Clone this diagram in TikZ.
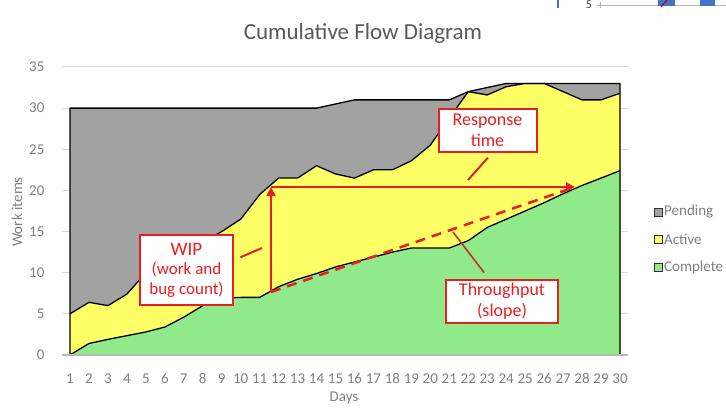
\documentclass[tikz,border=0pt]{standalone}
\usepackage{fontspec}
\setmainfont{Carlito}
\usetikzlibrary{arrows.meta}
\definecolor{pend}{RGB}{162,162,162}
\definecolor{act}{RGB}{255,255,102}
\definecolor{comp}{RGB}{144,234,138}
\definecolor{ann}{RGB}{232,30,35}
\definecolor{lead}{RGB}{195,50,40}
\definecolor{lbl}{RGB}{128,128,128}
\definecolor{gridc}{RGB}{217,217,217}
\definecolor{ttl}{RGB}{89,89,89}
\definecolor{fragblue}{RGB}{68,114,196}
\begin{document}
\begin{tikzpicture}[x=1pt,y=-1pt,
  annbox/.style={draw=ann, line width=2pt, fill=white, text=ann, align=center, inner sep=0pt, font=\fontsize{18}{21}\selectfont},
  annarrow/.style={draw=ann, line width=2.5pt, -{Triangle[length=9pt,width=9pt]}},
  anndash/.style={draw=ann, line width=2.5pt, dash pattern=on 10pt off 7pt},
  annlead/.style={draw=ann, line width=2pt},
  thrlead/.style={draw=lead, line width=1.6pt},
  ticklbl/.style={text=lbl, font=\fontsize{15}{17}\selectfont, inner sep=0pt},
  areaedge/.style={draw=black, line width=1.3pt, line join=round},
  legsq/.style={draw=black!80, line width=0.9pt, minimum size=8pt, inner sep=0pt},
]
\useasboundingbox (0,0) rectangle (726,408);
\fill[white] (0,0) rectangle (726,408);

% fragment of another chart at top right
\draw[fragblue, line width=1.2pt] (558,0) -- (558,8);
\node[text=black!75, font=\fontsize{12}{14}\selectfont, anchor=base, inner sep=0pt] (frag5) at (589,8) {5};
\draw[gray!60, line width=1pt] (597,5) -- (726,5);
\draw[gray!60, line width=1pt] (600,2) -- (600,8);
\fill[fragblue] (658,0) rectangle (675,6);
\fill[fragblue] (700,0) rectangle (715,6);
\draw[red!70!black, line width=1pt] (661,7) -- (667,0);

% title
\node[text=ttl, font=\fontsize{23}{27}\selectfont] (title) at (363,33) {Cumulative Flow Diagram};

% plot
\begin{scope}[shift={(70pt,-355pt)}, x=18.9655pt, y=8.23pt]
  \foreach \v in {5,10,...,35} \draw[gridc, line width=1pt] (-0.42,\v) -- (29.42,\v);
  \fill[pend] (0,0) -- (0,30) -- (13,30) -- (14,30.5) -- (15,31) -- (20,31) -- (21,32) -- (22,32.5) -- (23,33) -- (29,33) -- (29,0) -- cycle;
  \fill[act] (0,0) -- (0,5) -- (1,6.4) -- (2,6.0) -- (3,7.4) -- (4,10) -- (5,11.2) -- (6,12.5) -- (7,13.7) -- (8,15) -- (9,16.5) -- (10,19.5) -- (11,21.5) -- (12,21.5) -- (13,23) -- (14,22) -- (15,21.5) -- (16,22.5) -- (17,22.5) -- (18,23.6) -- (19,25.5) -- (20,28.8) -- (21,32) -- (22,31.6) -- (23,32.6) -- (24,33) -- (25,33) -- (26,32) -- (27,31) -- (28,31) -- (29,31.8) -- (29,0) -- cycle;
  \fill[comp] (0,0) -- (1,1.4) -- (2,1.9) -- (3,2.35) -- (4,2.8) -- (5,3.4) -- (6,4.6) -- (7,6.0) -- (8,6.9) -- (9,7) -- (10,7) -- (11,8.3) -- (12,9.2) -- (13,9.9) -- (14,10.7) -- (15,11.3) -- (16,11.9) -- (17,12.5) -- (18,13) -- (19,13) -- (20,13) -- (21,13.9) -- (22,15.5) -- (23,16.5) -- (24,17.5) -- (25,18.5) -- (26,19.6) -- (27,20.6) -- (28,21.5) -- (29,22.4) -- (29,0) -- cycle;
  \draw[areaedge] (0,0) -- (0,30) -- (13,30) -- (14,30.5) -- (15,31) -- (20,31) -- (21,32) -- (22,32.5) -- (23,33) -- (29,33) -- (29,0);
  \draw[areaedge] (0,5) -- (1,6.4) -- (2,6.0) -- (3,7.4) -- (4,10) -- (5,11.2) -- (6,12.5) -- (7,13.7) -- (8,15) -- (9,16.5) -- (10,19.5) -- (11,21.5) -- (12,21.5) -- (13,23) -- (14,22) -- (15,21.5) -- (16,22.5) -- (17,22.5) -- (18,23.6) -- (19,25.5) -- (20,28.8) -- (21,32) -- (22,31.6) -- (23,32.6) -- (24,33) -- (25,33) -- (26,32) -- (27,31) -- (28,31) -- (29,31.8);
  \draw[areaedge] (0,0) -- (1,1.4) -- (2,1.9) -- (3,2.35) -- (4,2.8) -- (5,3.4) -- (6,4.6) -- (7,6.0) -- (8,6.9) -- (9,7) -- (10,7) -- (11,8.3) -- (12,9.2) -- (13,9.9) -- (14,10.7) -- (15,11.3) -- (16,11.9) -- (17,12.5) -- (18,13) -- (19,13) -- (20,13) -- (21,13.9) -- (22,15.5) -- (23,16.5) -- (24,17.5) -- (25,18.5) -- (26,19.6) -- (27,20.6) -- (28,21.5) -- (29,22.4);
  \draw[gridc!85!black, line width=1.2pt] (-0.42,0) -- (29.42,0);
  \foreach \d in {1,...,30} \node[ticklbl] (xl\d) at (\d-1,-2.85) {\d};
  \foreach \v in {0,5,...,35} \node[ticklbl, anchor=east] (yl\v) at (-1.34,\v) {\v};
\end{scope}

% axis titles
\node[ticklbl] (days) at (344,398) {Days};
\node[ticklbl, rotate=90] (workitems) at (17,212) {Work items};

% legend
\node[legsq, fill=pend] (lgp) at (658,212) {};
\node[ticklbl, anchor=west] (lgpt) at (664,212) {Pending};
\node[legsq, fill=act] (lga) at (658,239) {};
\node[ticklbl, anchor=west] (lgat) at (664,239) {Active};
\node[legsq, fill=comp] (lgc) at (658,267) {};
\node[ticklbl, anchor=west] (lgct) at (664,267) {Complete};

% annotations
\coordinate (vb) at (271,292);
\coordinate (vt) at (271,187);
\coordinate (ht) at (575,187);
\coordinate (wipend) at (262,248);
\coordinate (respend) at (468,180);
\coordinate (thrp) at (453,232);
\draw[anndash] (vb) -- (ht);
\draw[annarrow] (vb) -- (vt);
\draw[annarrow] (vt) -- (ht);

\node[annbox, minimum width=93pt, minimum height=70pt, font=\fontsize{17}{19.5}\selectfont] (wip) at (186.5,270) {{\fontsize{19}{21}\selectfont WIP}\\(work and\\bug count)};
\node[annbox, minimum width=98pt, minimum height=43pt] (resp) at (487.5,130) {Response\\time};
\node[annbox, minimum width=112pt, minimum height=43pt] (thr) at (502,301.5) {Throughput\\(slope)};

\draw[annlead, shorten <=7pt] ([yshift=10pt]wip.east) -- (wipend);
\draw[annlead, shorten <=7pt] ([xshift=5pt]resp.south) -- (respend);
\draw[thrlead, shorten >=8pt] (thrp) -- ([xshift=-13pt]thr.north);
\end{tikzpicture}
\end{document}
